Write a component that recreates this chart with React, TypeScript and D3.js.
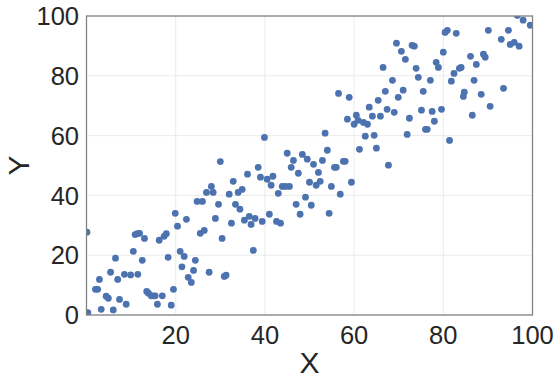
import React from "react";
import * as d3 from "d3";

const xs = [
  0.1, 0.3, 2.0, 2.5, 2.9, 3.3, 4.4, 4.9, 5.4, 6.0, 6.5, 7.0, 7.4, 8.5, 8.9, 9.9, 10.5, 10.9, 11.4, 11.9,
  11.5, 12.5, 13.0, 13.5, 13.9, 14.5, 15.0, 15.4, 15.9, 17.0, 19.0, 19.5, 16.3, 17.4, 17.9, 18.3, 19.9, 20.4, 21.0, 21.4,
  21.9, 22.4, 22.8, 23.5, 24.0, 24.4, 24.8, 26.0, 25.5, 26.4, 26.9, 28.0, 28.4, 27.5, 28.9, 29.6, 30.0, 30.4, 30.9, 31.3,
  32.0, 32.5, 32.9, 33.4, 34.0, 34.9, 34.4, 35.4, 36.1, 36.5, 36.9, 37.4, 37.8, 38.5, 39.0, 39.4, 39.9, 40.5, 41.0, 41.8,
  41.4, 43.0, 43.9, 44.6, 45.5, 45.0, 45.9, 46.4, 47.5, 48.4, 49.5, 50.9, 50.0, 51.5, 52.0, 52.4, 52.9, 53.5, 54.0, 54.9,
  55.6, 56.0, 56.9, 57.6, 58.0, 56.5, 58.9, 58.5, 59.4, 60.0, 60.5, 60.9, 62.1, 63.0, 61.2, 47.0, 49.1, 47.9, 50.4, 54.4,
  42.6, 43.5, 67.7, 62.5, 63.4, 64.1, 64.5, 65.0, 65.4, 65.9, 66.5, 67.0, 67.4, 68.6, 69.0, 69.5, 69.9, 70.6, 71.0, 71.5,
  71.9, 72.4, 73.0, 73.5, 73.9, 74.4, 75.1, 75.5, 76.0, 76.4, 77.1, 77.5, 78.0, 78.4, 78.9, 79.6, 80.0, 80.4, 80.9, 81.4,
  81.8, 82.4, 82.9, 83.6, 84.0, 86.1, 87.4, 89.0, 89.4, 86.9, 84.7, 84.5, 88.5, 86.5, 90.5, 93.5, 90.1, 93.0, 94.6, 95.0,
  95.9, 97.0, 96.6, 97.9, 99.5,
];
const ys = [
  27.7, 0.8, 8.6, 8.6, 11.9, 1.9, 6.3, 5.6, 14.3, 1.7, 19.0, 11.9, 5.2, 13.6, 3.6, 13.4, 21.3, 26.9, 27.2, 27.3,
  13.6, 18.3, 25.6, 7.9, 7.3, 6.4, 6.4, 6.4, 3.6, 6.4, 3.3, 8.6, 25.0, 26.3, 27.2, 19.3, 34.0, 29.7, 21.3, 16.1,
  19.6, 32.0, 12.6, 10.9, 14.9, 18.3, 38.0, 38.0, 27.3, 28.3, 41.0, 43.0, 41.0, 14.3, 32.3, 37.0, 51.3, 25.6, 12.9, 13.3,
  40.4, 30.7, 44.7, 37.0, 41.0, 42.0, 35.4, 31.7, 47.1, 33.0, 30.3, 21.6, 32.3, 49.4, 46.1, 31.3, 59.4, 45.4, 33.7, 46.4,
  43.4, 40.7, 43.0, 43.0, 43.0, 54.1, 49.4, 51.7, 47.4, 53.7, 52.1, 50.4, 44.4, 43.4, 47.7, 44.7, 51.7, 60.8, 55.1, 43.0,
  49.4, 49.4, 40.4, 51.4, 51.4, 74.1, 72.8, 65.5, 44.4, 63.8, 66.8, 65.1, 64.4, 63.8, 55.4, 37.0, 39.4, 33.7, 36.7, 34.0,
  31.3, 30.7, 50.1, 59.8, 69.5, 66.5, 60.1, 55.8, 71.8, 66.5, 82.8, 74.8, 68.8, 78.5, 67.8, 90.9, 72.8, 88.2, 75.2, 85.5,
  60.4, 65.8, 90.2, 89.9, 82.5, 79.5, 68.5, 74.8, 62.1, 62.1, 78.5, 68.1, 64.8, 84.5, 82.8, 68.8, 87.9, 94.5, 95.2, 58.4,
  78.2, 80.8, 94.2, 82.5, 82.8, 86.5, 83.8, 87.2, 86.2, 78.5, 74.5, 73.1, 73.8, 66.8, 69.8, 75.8, 95.2, 92.2, 95.2, 90.5,
  91.2, 89.9, 100.2, 98.6, 96.9,
];
const xTicks = [20, 40, 60, 80, 100];
const yTicks = [0, 20, 40, 60, 80, 100];
const xLabel = "X";
const yLabel = "Y";

const W = 560;
const H = 382;
const M = { left: 86.5, right: 532.5, top: 16, bottom: 315 };
const FONT = "Arimo, 'Liberation Sans', Arial, sans-serif";
const TICK = 25.5;
const LAB = 30;

export default function App() {
  const x = d3.scaleLinear().domain([0, 100]).range([M.left, M.right]);
  const y = d3.scaleLinear().domain([0, 100]).range([M.bottom, M.top]);
  const pts = xs.map((v, i) => ({ x: v, y: ys[i] }));
  return (
    <svg
      width={W}
      height={H}
      style={{ position: "absolute", left: 0, top: 0, background: "#fff" }}
      fontFamily={FONT}
    >
      <defs>
        <clipPath id="plotclip">
          <rect x={M.left} y={M.top} width={M.right - M.left} height={M.bottom - M.top} />
        </clipPath>
      </defs>
      <rect x={M.left} y={M.top} width={M.right - M.left} height={M.bottom - M.top} fill="#fff" />
      {xTicks.map((t) => (
        <line key={"gx" + t} x1={x(t)} x2={x(t)} y1={M.top} y2={M.bottom} stroke="#ebebeb" strokeWidth={1} />
      ))}
      {yTicks.map((t) => (
        <line key={"gy" + t} x1={M.left} x2={M.right} y1={y(t)} y2={y(t)} stroke="#ebebeb" strokeWidth={1} />
      ))}
      <g clipPath="url(#plotclip)">
        {pts.map((p, i) => (
          <circle key={i} cx={x(p.x)} cy={y(p.y)} r={3.4} fill="#4c72b0" />
        ))}
      </g>
      <rect
        x={M.left}
        y={M.top}
        width={M.right - M.left}
        height={M.bottom - M.top}
        fill="none"
        stroke="#808080"
        strokeWidth={1.25}
      />
      {xTicks.map((t) => (
        <text key={"tx" + t} x={x(t)} y={343.5} textAnchor="middle" fontSize={TICK} fill="#262626">
          {t}
        </text>
      ))}
      {yTicks.map((t) => (
        <text key={"ty" + t} x={79} y={y(t) + TICK * 0.358} textAnchor="end" fontSize={TICK} fill="#262626">
          {t}
        </text>
      ))}
      <text x={(M.left + M.right) / 2} y={373} textAnchor="middle" fontSize={LAB} fill="#262626">
        {xLabel}
      </text>
      <text
        transform={`translate(29,${(M.top + M.bottom) / 2}) rotate(-90)`}
        textAnchor="middle"
        fontSize={LAB}
        fill="#262626"
      >
        {yLabel}
      </text>
    </svg>
  );
}
